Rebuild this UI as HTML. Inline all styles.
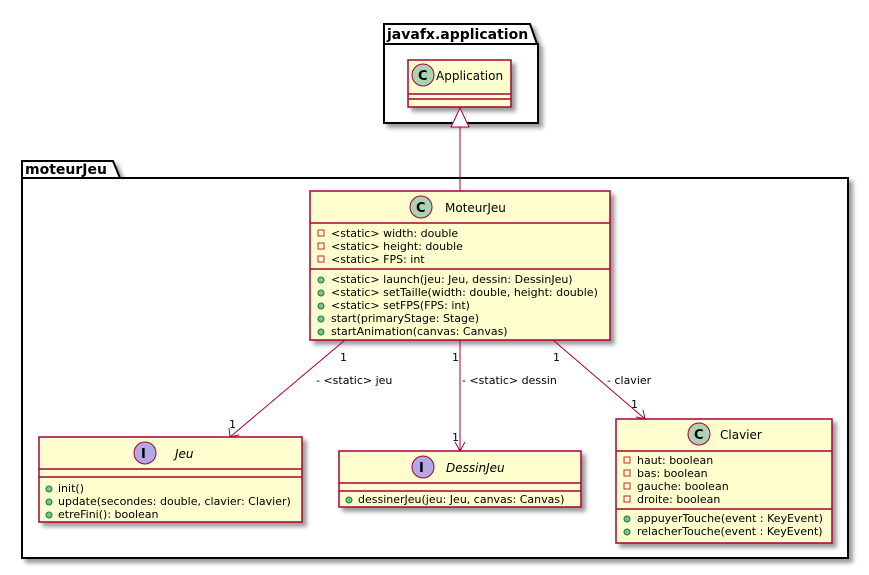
<!DOCTYPE html>
<html><head><meta charset="utf-8"><style>
html,body{margin:0;padding:0;background:#fff}
svg text{font-family:"DejaVu Sans","Liberation Sans",sans-serif;font-size:11px;fill:#000}
</style></head><body>
<svg width="869" height="570" viewBox="0 0 869 570" xmlns="http://www.w3.org/2000/svg">
<defs>
<filter id="sh" x="-10%" y="-10%" width="130%" height="130%"><feGaussianBlur in="SourceAlpha" stdDeviation="2"/><feOffset dx="4" dy="4"/><feComponentTransfer><feFuncA type="linear" slope="0.4"/></feComponentTransfer><feMerge><feMergeNode/><feMergeNode in="SourceGraphic"/></feMerge></filter>
</defs>
<!-- javafx.application package -->
<g filter="url(#sh)">
<path d="M384,24 L530,24 L537,44 L538,44 L538,123 L384,123 Z" fill="#fff" stroke="#000" stroke-width="2"/>
</g>
<line x1="384" y1="44" x2="537" y2="44" stroke="#000" stroke-width="2"/>
<text x="387" y="39" style="font-weight:bold;font-size:14px">javafx.application</text>
<!-- moteurJeu package -->
<g filter="url(#sh)">
<path d="M22,161 L113,161 L120,178 L848,178 L848,558 L22,558 Z" fill="#fff" stroke="#000" stroke-width="2"/>
</g>
<line x1="22" y1="178" x2="120" y2="178" stroke="#000" stroke-width="2"/>
<text x="25" y="174" style="font-weight:bold;font-size:14px">moteurJeu</text>

<!-- Application -->
<rect x="408" y="60" width="103" height="47" fill="#FEFECE" stroke="#A80036" stroke-width="1.5" filter="url(#sh)"/>
<line x1="408" y1="94" x2="511" y2="94" stroke="#A80036" stroke-width="1.5"/>
<line x1="408" y1="99" x2="511" y2="99" stroke="#A80036" stroke-width="1.5"/>
<circle cx="423" cy="75" r="11" fill="#ADD1B2" stroke="#A80036"/>
<text x="418" y="80" style="font-weight:bold;font-size:13px">C</text>
<text x="436" y="80" style="font-size:12px">Application</text>

<!-- inheritance -->
<line x1="460" y1="127" x2="460" y2="191" stroke="#A80036"/>
<polygon points="460,108 451,127 469,127" fill="#fff" stroke="#A80036"/>

<!-- MoteurJeu -->
<rect x="310" y="191" width="300" height="149" fill="#FEFECE" stroke="#A80036" stroke-width="1.5" filter="url(#sh)"/>
<line x1="310" y1="223" x2="610" y2="223" stroke="#A80036" stroke-width="1.5"/>
<line x1="310" y1="269" x2="610" y2="269" stroke="#A80036" stroke-width="1.5"/>
<circle cx="421" cy="207" r="11" fill="#ADD1B2" stroke="#A80036"/>
<text x="416" y="212" style="font-weight:bold;font-size:13px">C</text>
<text x="445" y="212" style="font-size:12px">MoteurJeu</text>
<g fill="none" stroke="#C82930"><rect x="318" y="230" width="6" height="6"/><rect x="318" y="243" width="6" height="6"/><rect x="318" y="256" width="6" height="6"/></g>
<text x="331" y="237">&lt;static&gt; width: double</text>
<text x="331" y="250">&lt;static&gt; height: double</text>
<text x="331" y="263">&lt;static&gt; FPS: int</text>
<g fill="#84BE84" stroke="#038048"><circle cx="321" cy="280" r="3"/><circle cx="321" cy="293" r="3"/><circle cx="321" cy="306" r="3"/><circle cx="321" cy="319" r="3"/><circle cx="321" cy="332" r="3"/></g>
<text x="331" y="283">&lt;static&gt; launch(jeu: Jeu, dessin: DessinJeu)</text>
<text x="331" y="296">&lt;static&gt; setTaille(width: double, height: double)</text>
<text x="331" y="309">&lt;static&gt; setFPS(FPS: int)</text>
<text x="331" y="322">start(primaryStage: Stage)</text>
<text x="331" y="335">startAnimation(canvas: Canvas)</text>

<!-- Jeu -->
<rect x="39" y="437" width="263" height="85" fill="#FEFECE" stroke="#A80036" stroke-width="1.5" filter="url(#sh)"/>
<line x1="39" y1="469" x2="302" y2="469" stroke="#A80036" stroke-width="1.5"/>
<line x1="39" y1="477" x2="302" y2="477" stroke="#A80036" stroke-width="1.5"/>
<circle cx="145" cy="453" r="11" fill="#B4A7E5" stroke="#A80036"/>
<text x="141" y="458" style="font-weight:bold;font-size:13px">I</text>
<text x="175" y="458" style="font-size:12px;font-style:italic">Jeu</text>
<g fill="#84BE84" stroke="#038048"><circle cx="49" cy="489" r="3"/><circle cx="49" cy="502" r="3"/><circle cx="49" cy="515" r="3"/></g>
<text x="58" y="492">init()</text>
<text x="58" y="505">update(secondes: double, clavier: Clavier)</text>
<text x="58" y="518">etreFini(): boolean</text>

<!-- DessinJeu -->
<rect x="339" y="451" width="242" height="56" fill="#FEFECE" stroke="#A80036" stroke-width="1.5" filter="url(#sh)"/>
<line x1="339" y1="483" x2="581" y2="483" stroke="#A80036" stroke-width="1.5"/>
<line x1="339" y1="491" x2="581" y2="491" stroke="#A80036" stroke-width="1.5"/>
<circle cx="423" cy="467" r="11" fill="#B4A7E5" stroke="#A80036"/>
<text x="419" y="472" style="font-weight:bold;font-size:13px">I</text>
<text x="446" y="472" style="font-size:12px;font-style:italic">DessinJeu</text>
<circle cx="349" cy="500" r="3" fill="#84BE84" stroke="#038048"/>
<text x="358" y="503">dessinerJeu(jeu: Jeu, canvas: Canvas)</text>

<!-- Clavier -->
<rect x="616" y="419" width="216" height="124" fill="#FEFECE" stroke="#A80036" stroke-width="1.5" filter="url(#sh)"/>
<line x1="616" y1="451" x2="832" y2="451" stroke="#A80036" stroke-width="1.5"/>
<line x1="616" y1="509" x2="832" y2="509" stroke="#A80036" stroke-width="1.5"/>
<circle cx="699" cy="434" r="11" fill="#ADD1B2" stroke="#A80036"/>
<text x="694" y="439" style="font-weight:bold;font-size:13px">C</text>
<text x="720" y="439" style="font-size:12px">Clavier</text>
<g fill="none" stroke="#C82930"><rect x="624" y="457" width="6" height="6"/><rect x="624" y="470" width="6" height="6"/><rect x="624" y="483" width="6" height="6"/><rect x="624" y="496" width="6" height="6"/></g>
<text x="637" y="464">haut: boolean</text>
<text x="637" y="477">bas: boolean</text>
<text x="637" y="490">gauche: boolean</text>
<text x="637" y="503">droite: boolean</text>
<g fill="#84BE84" stroke="#038048"><circle cx="627" cy="519" r="3"/><circle cx="627" cy="532" r="3"/></g>
<text x="637" y="522">appuyerTouche(event : KeyEvent)</text>
<text x="637" y="535">relacherTouche(event : KeyEvent)</text>

<!-- associations -->
<g stroke="#A80036" fill="none">
<line x1="345" y1="340" x2="230" y2="437"/>
<polyline points="229,428 230,437 239,435"/>
<line x1="460" y1="340" x2="460" y2="451"/>
<polyline points="455,442 460,451 465,442"/>
<line x1="553" y1="340" x2="645" y2="419"/>
<polyline points="636,417 645,419 643,410"/>
</g>
<text x="340" y="361">1</text>
<text x="316" y="384">- &lt;static&gt; jeu</text>
<text x="229" y="428">1</text>
<text x="452" y="361">1</text>
<text x="462" y="384">- &lt;static&gt; dessin</text>
<text x="452" y="441">1</text>
<text x="553" y="361">1</text>
<text x="607" y="384">- clavier</text>
<text x="631" y="408">1</text>
</svg>
</body></html>
